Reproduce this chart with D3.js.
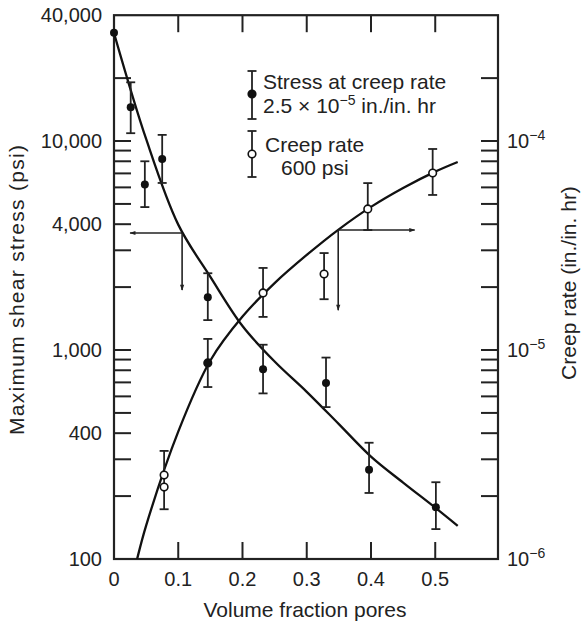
<!DOCTYPE html>
<html><head><meta charset="utf-8">
<script src="https://cdn.jsdelivr.net/npm/d3@7"></script>
<style>body{margin:0;background:#fff}svg{display:block}text{font-family:"Liberation Sans",Arial,Helvetica,sans-serif;fill:#222}</style>
</head><body><svg id="c" width="581" height="622"></svg>
<script>
// ---- data ----
const xTicks = [0, 0.1, 0.2, 0.3, 0.4, 0.5];
const xTickLabels = ["0", "0.1", "0.2", "0.3", "0.4", "0.5"];
const leftTicks = [100, 400, 1000, 4000, 10000, 40000];
const leftTickLabels = ["100", "400", "1,000", "4,000", "10,000", "40,000"];
const leftMinor = [200,300,400,500,600,700,800,900,1000,2000,3000,4000,5000,6000,7000,8000,9000,10000,20000];
const rightTicks = [1e-6, 1e-5, 1e-4];
const rightTickExp = ["−6", "−5", "−4"];
const rightMinor = [2e-6,3e-6,4e-6,5e-6,6e-6,7e-6,8e-6,9e-6,1e-5,2e-5,3e-5,4e-5,5e-5,6e-5,7e-5,8e-5,9e-5,1e-4,2e-4];

// stress at creep rate 2.5e-5 (left axis, filled)
const stressX  = [0, 0.026, 0.048, 0.075, 0.146, 0.232, 0.33, 0.397, 0.501];
const stressVal = [33000, 14500, 6200, 8200, 1790, 810, 695, 267, 177];
const stressHi  = [null, 19100, 8000, 10700, 2330, 1060, 920, 360, 233];
const stressLo  = [null, 10900, 4830, 6300, 1390, 620, 533, 207, 139];

// creep rate at 600 psi (right axis, open)
const creepX   = [0.078, 0.078, 0.146, 0.232, 0.327, 0.395, 0.496];
const creepVal = [2.52e-6, 2.21e-6, 8.67e-6, 1.875e-5, 2.31e-5, 4.73e-5, 7.03e-5];
const creepHi  = [3.29e-6, null, 1.13e-5, 2.47e-5, 2.91e-5, 6.29e-5, 9.16e-5];
const creepLo  = [1.73e-6, null, 6.65e-6, 1.44e-5, 1.75e-5, 3.75e-5, 5.52e-5];
const creepFilled = [false, false, true, false, false, false, false];

// fitted curves
const stressCurveX = [0, 0.05, 0.1, 0.15, 0.2, 0.25, 0.3, 0.35, 0.4, 0.45, 0.5, 0.535];
const stressCurveV = [32890, 10230, 3981, 2239, 1303, 881, 631, 442, 309, 232, 176, 144];
const creepCurveX = [0.03, 0.036, 0.05, 0.1, 0.15, 0.2, 0.25, 0.3, 0.35, 0.4, 0.45, 0.5, 0.535];
const creepCurveV = [8.32e-7, 1.0e-6, 1.445e-6, 4.07e-6, 8.91e-6, 1.445e-5, 2.09e-5, 2.85e-5, 3.78e-5, 4.84e-5, 5.96e-5, 7.14e-5, 7.94e-5];

// arrow annotations [x at curve, value, x end of horizontal arrow, value end of vertical arrow]
const stressArrow = [0.106, 3630, 0.025, 1936];
const creepArrow  = [0.349, 3.75e-5, 0.468, 1.55e-5];

const legendLabels = [["Stress at creep rate", "2.5 × 10", "−5", " in./in. hr"], ["Creep rate", "600 psi"]];

// ---- layout ----
const L = 114, R = 498, T = 15.2, B = 559;
const svg = d3.select("#c");
const x = d3.scaleLinear().domain([0, 0.5977]).range([L, R]);
const yL = d3.scaleLog().domain([100, 40000]).range([B, T]);
const yR = d3.scaleLog().domain([1e-6, 4e-4]).range([B, T]);
const TL = 17;

const defs = svg.append("defs");
defs.append("clipPath").attr("id", "clip").append("rect").attr("x", L).attr("y", T).attr("width", R - L).attr("height", B - T);
defs.append("marker").attr("id", "ah").attr("viewBox", "0 0 10 10").attr("refX", 9).attr("refY", 5)
  .attr("markerWidth", 10).attr("markerHeight", 6).attr("markerUnits", "userSpaceOnUse").attr("orient", "auto")
  .append("path").attr("d", "M0,1.5 L10,5 L0,8.5 Z").attr("fill", "#222");

// ticks
const g = svg.append("g").attr("stroke", "#222").attr("stroke-width", 2);
g.selectAll(".lt").data(leftMinor).join("line").attr("x1", L).attr("x2", L + TL).attr("y1", d => yL(d)).attr("y2", d => yL(d));
g.selectAll(".rt").data(rightMinor).join("line").attr("x1", R).attr("x2", R - TL).attr("y1", d => yR(d)).attr("y2", d => yR(d));
g.selectAll(".tt").data(xTicks.slice(1)).join("line").attr("x1", d => x(d)).attr("x2", d => x(d)).attr("y1", T).attr("y2", T + TL);
g.selectAll(".bt").data(xTicks.slice(1)).join("line").attr("x1", d => x(d)).attr("x2", d => x(d)).attr("y1", B).attr("y2", B - TL);

// frame
svg.append("rect").attr("x", L).attr("y", T).attr("width", R - L).attr("height", B - T)
  .attr("fill", "none").attr("stroke", "#222").attr("stroke-width", 2.2);

// tick labels
svg.selectAll(".xl").data(xTicks).join("text").attr("x", d => x(d)).attr("y", 586)
  .attr("text-anchor", "middle").attr("font-size", 20).text((d, i) => xTickLabels[i]);
svg.selectAll(".yl").data(leftTicks).join("text").attr("x", 102).attr("y", d => yL(d) + 7)
  .attr("text-anchor", "end").attr("font-size", 20).text((d, i) => leftTickLabels[i]);
const rt = svg.selectAll(".yr").data(rightTicks).join("text").attr("x", 507).attr("y", d => yR(d) + 7).attr("font-size", 20);
rt.append("tspan").text("10");
rt.append("tspan").attr("font-size", 14).attr("dy", -8).text((d, i) => rightTickExp[i]);

// axis titles
svg.append("text").attr("x", 305).attr("y", 617).attr("text-anchor", "middle").attr("font-size", 21).text("Volume fraction pores");
svg.append("text").attr("transform", "translate(24,290) rotate(-90)").attr("text-anchor", "middle").attr("font-size", 21)
  .attr("textLength", 290).attr("lengthAdjust", "spacing").text("Maximum shear stress (psi)");
svg.append("text").attr("transform", "translate(576,283) rotate(-90)").attr("text-anchor", "middle").attr("font-size", 21)
  .text("Creep rate (in./in. hr)");

// curves
const plot = svg.append("g").attr("clip-path", "url(#clip)");
const lineL = d3.line().x(d => x(d[0])).y(d => yL(d[1])).curve(d3.curveCatmullRom.alpha(0.5));
const lineR = d3.line().x(d => x(d[0])).y(d => yR(d[1])).curve(d3.curveCatmullRom.alpha(0.5));
plot.append("path").attr("d", lineL(stressCurveX.map((v, i) => [v, stressCurveV[i]])))
  .attr("fill", "none").attr("stroke", "#111").attr("stroke-width", 2.3);
plot.append("path").attr("d", lineR(creepCurveX.map((v, i) => [v, creepCurveV[i]])))
  .attr("fill", "none").attr("stroke", "#111").attr("stroke-width", 2.3);

// arrows
function arrow(a, ys) {
  const ag = svg.append("g").attr("stroke", "#222").attr("stroke-width", 1.6).attr("fill", "none");
  ag.append("line").attr("x1", x(a[0])).attr("y1", ys(a[1])).attr("x2", x(a[2])).attr("y2", ys(a[1])).attr("marker-end", "url(#ah)");
  ag.append("line").attr("x1", x(a[0])).attr("y1", ys(a[1])).attr("x2", x(a[0])).attr("y2", ys(a[3])).attr("marker-end", "url(#ah)");
}
arrow(stressArrow, yL);
arrow(creepArrow, yR);

// error bars + markers
function errBars(xs, hi, lo, ys) {
  const eg = svg.append("g").attr("stroke", "#222").attr("stroke-width", 1.8);
  xs.forEach((xv, i) => {
    if (hi[i] == null) return;
    const px = x(xv);
    eg.append("line").attr("x1", px).attr("x2", px).attr("y1", ys(hi[i])).attr("y2", ys(lo[i]));
    eg.append("line").attr("x1", px - 4.5).attr("x2", px + 4.5).attr("y1", ys(hi[i])).attr("y2", ys(hi[i]));
    eg.append("line").attr("x1", px - 4.5).attr("x2", px + 4.5).attr("y1", ys(lo[i])).attr("y2", ys(lo[i]));
  });
}
errBars(stressX, stressHi, stressLo, yL);
errBars(creepX, creepHi, creepLo, yR);
svg.selectAll(".sp").data(stressX).join("circle").attr("cx", d => x(d)).attr("cy", (d, i) => yL(stressVal[i]))
  .attr("r", 4).attr("fill", "#111");
svg.selectAll(".cp").data(creepX).join("circle").attr("cx", d => x(d)).attr("cy", (d, i) => yR(creepVal[i]))
  .attr("r", 3.8).attr("fill", (d, i) => creepFilled[i] ? "#111" : "#fff").attr("stroke", "#111").attr("stroke-width", 1.6);

// legend
const lg = svg.append("g");
const lgs = lg.append("g").attr("stroke", "#222").attr("stroke-width", 1.8);
[[71, 119, 94, true], [131, 177, 154, false]].forEach(e => {
  lgs.append("line").attr("x1", 252).attr("x2", 252).attr("y1", e[0]).attr("y2", e[1]);
  lgs.append("line").attr("x1", 247.5).attr("x2", 256.5).attr("y1", e[0]).attr("y2", e[0]);
  lgs.append("line").attr("x1", 247.5).attr("x2", 256.5).attr("y1", e[1]).attr("y2", e[1]);
  lgs.append("circle").attr("cx", 252).attr("cy", e[2]).attr("r", 3.8)
    .attr("fill", e[3] ? "#111" : "#fff").attr("stroke", "#111").attr("stroke-width", 1.6);
});
lg.append("text").attr("x", 263).attr("y", 89).attr("font-size", 21).text(legendLabels[0][0]);
const t2 = lg.append("text").attr("x", 263).attr("y", 113).attr("font-size", 21);
t2.append("tspan").text(legendLabels[0][1]);
t2.append("tspan").attr("font-size", 14).attr("dy", -8).text(legendLabels[0][2]);
t2.append("tspan").attr("dy", 8).text(legendLabels[0][3]);
lg.append("text").attr("x", 265).attr("y", 152).attr("font-size", 21).text(legendLabels[1][0]);
lg.append("text").attr("x", 281).attr("y", 175).attr("font-size", 21).text(legendLabels[1][1]);
</script></body></html>
